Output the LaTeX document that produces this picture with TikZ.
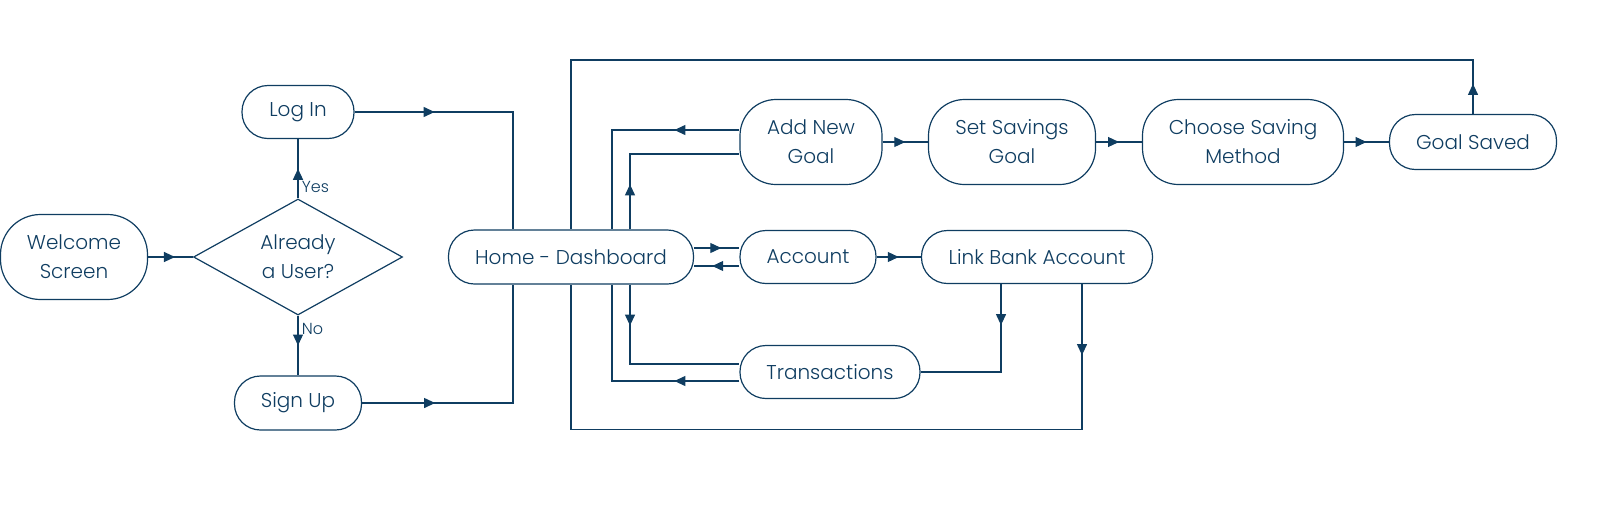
\documentclass[tikz,border=0pt]{standalone}
\usepackage{fontspec}
\IfFontExistsTF{Poppins Light}{\setmainfont{Poppins Light}}{\setmainfont{Poppins}}
\usetikzlibrary{shapes.geometric,arrows.meta,decorations.markings}
\definecolor{navy}{HTML}{0F3D61}

\begin{document}
\begin{tikzpicture}[x=1pt,y=-1pt,
    box/.style={draw=navy, line width=1.2pt, rounded corners=26pt, align=center, text=navy, inner sep=0pt, font=\fontsize{20}{29}\selectfont},
    tallbox/.style={box, rounded corners=36pt, minimum height=85pt},
    decide/.style={diamond, draw=navy, line width=1.2pt, aspect=1.8, inner sep=0pt, minimum width=209pt, minimum height=116pt, align=center, text=navy, font=\fontsize{20}{29}\selectfont},
    flow/.style={navy, line width=1.2pt},
    tip/.style={postaction={decorate}, decoration={markings, mark=at position #1 with {\arrow{Triangle[length=11pt,width=10pt]}}}},
    tip/.default=0.5,
    lbl/.style={text=navy, font=\fontsize{16}{19}\selectfont}]
    \useasboundingbox (0,0) rectangle (1616,507);

    \node (welcome) at (74,257)[box, rounded corners=40pt, minimum width=147pt, minimum height=85pt]{Welcome\\Screen};
    \node (user) at (298,257)[decide]{Already\\a User?};
    \node (login) at (298,112)[box, minimum width=112pt, minimum height=53pt]{Log In};
    \node (signup) at (298,403)[box, minimum width=127pt, minimum height=54pt]{Sign Up};
    \node (home) at (571,257)[box, minimum width=245pt, minimum height=54pt]{Home - Dashboard};

    \node (addgoal) at (811,142)[tallbox, minimum width=142pt]{Add New\\Goal};
    \node (setgoal) at (1012,142)[tallbox, minimum width=167pt]{Set Savings\\Goal};
    \node (method) at (1243,142)[tallbox, minimum width=201pt]{Choose Saving\\Method};
    \node (saved) at (1473,142)[box, minimum width=167pt, minimum height=55pt]{Goal Saved};

    \node (account) at (808,257)[box, minimum width=136pt, minimum height=53pt]{Account};
    \node (link) at (1037,257)[box, minimum width=231pt, minimum height=53pt]{Link Bank Account};
    \node (trans) at (830,372)[box, minimum width=180pt, minimum height=53pt]{Transactions};

    \draw[flow, tip=0.6] (welcome.east) -- (user.west);
    \draw[flow, tip] (user.north) -- (login.south) node[pos=0.2, right, lbl]{Yes};
    \draw[flow, tip] (user.south) -- (signup.north) node[pos=0.22, right, lbl]{No};
    \draw[flow, tip=80pt] (login.east) -| ([xshift=-58pt]home.north);
    \draw[flow, tip=73pt] (signup.east) -| ([xshift=-58pt]home.south);

    \draw[flow, tip=30pt] (saved.north) -- ++(0,-54) -| (home.north);
    \draw[flow, tip=71pt] ([xshift=45pt]link.south) -- ++(0,145) -| (home.south);

    \draw[flow, tip=65pt] ([yshift=12pt]addgoal.west) -| ([xshift=41pt]home.north);
    \draw[flow, tip=45pt] ([xshift=59pt]home.north) |- ([yshift=-12pt]addgoal.west);
    \draw[flow, tip=41pt] ([xshift=59pt]home.south) |- ([yshift=8pt]trans.west);
    \draw[flow, tip=65pt] ([yshift=-9pt]trans.west) -| ([xshift=41pt]home.south);

    \draw[flow, tip=0.6] ([yshift=9pt]home.east) -- ([yshift=9pt]account.west);
    \draw[flow, tip=0.6] ([yshift=-9pt]account.west) -- ([yshift=-9pt]home.east);
    \draw[flow, tip] (account) -- (link);
    \draw[flow, tip=41pt] ([xshift=-36pt]link.south) |- (trans.east);

    \draw[flow, tip] (addgoal) -- (setgoal);
    \draw[flow, tip] (setgoal) -- (method);
    \draw[flow, tip] (method) -- (saved);
\end{tikzpicture}
\end{document}
